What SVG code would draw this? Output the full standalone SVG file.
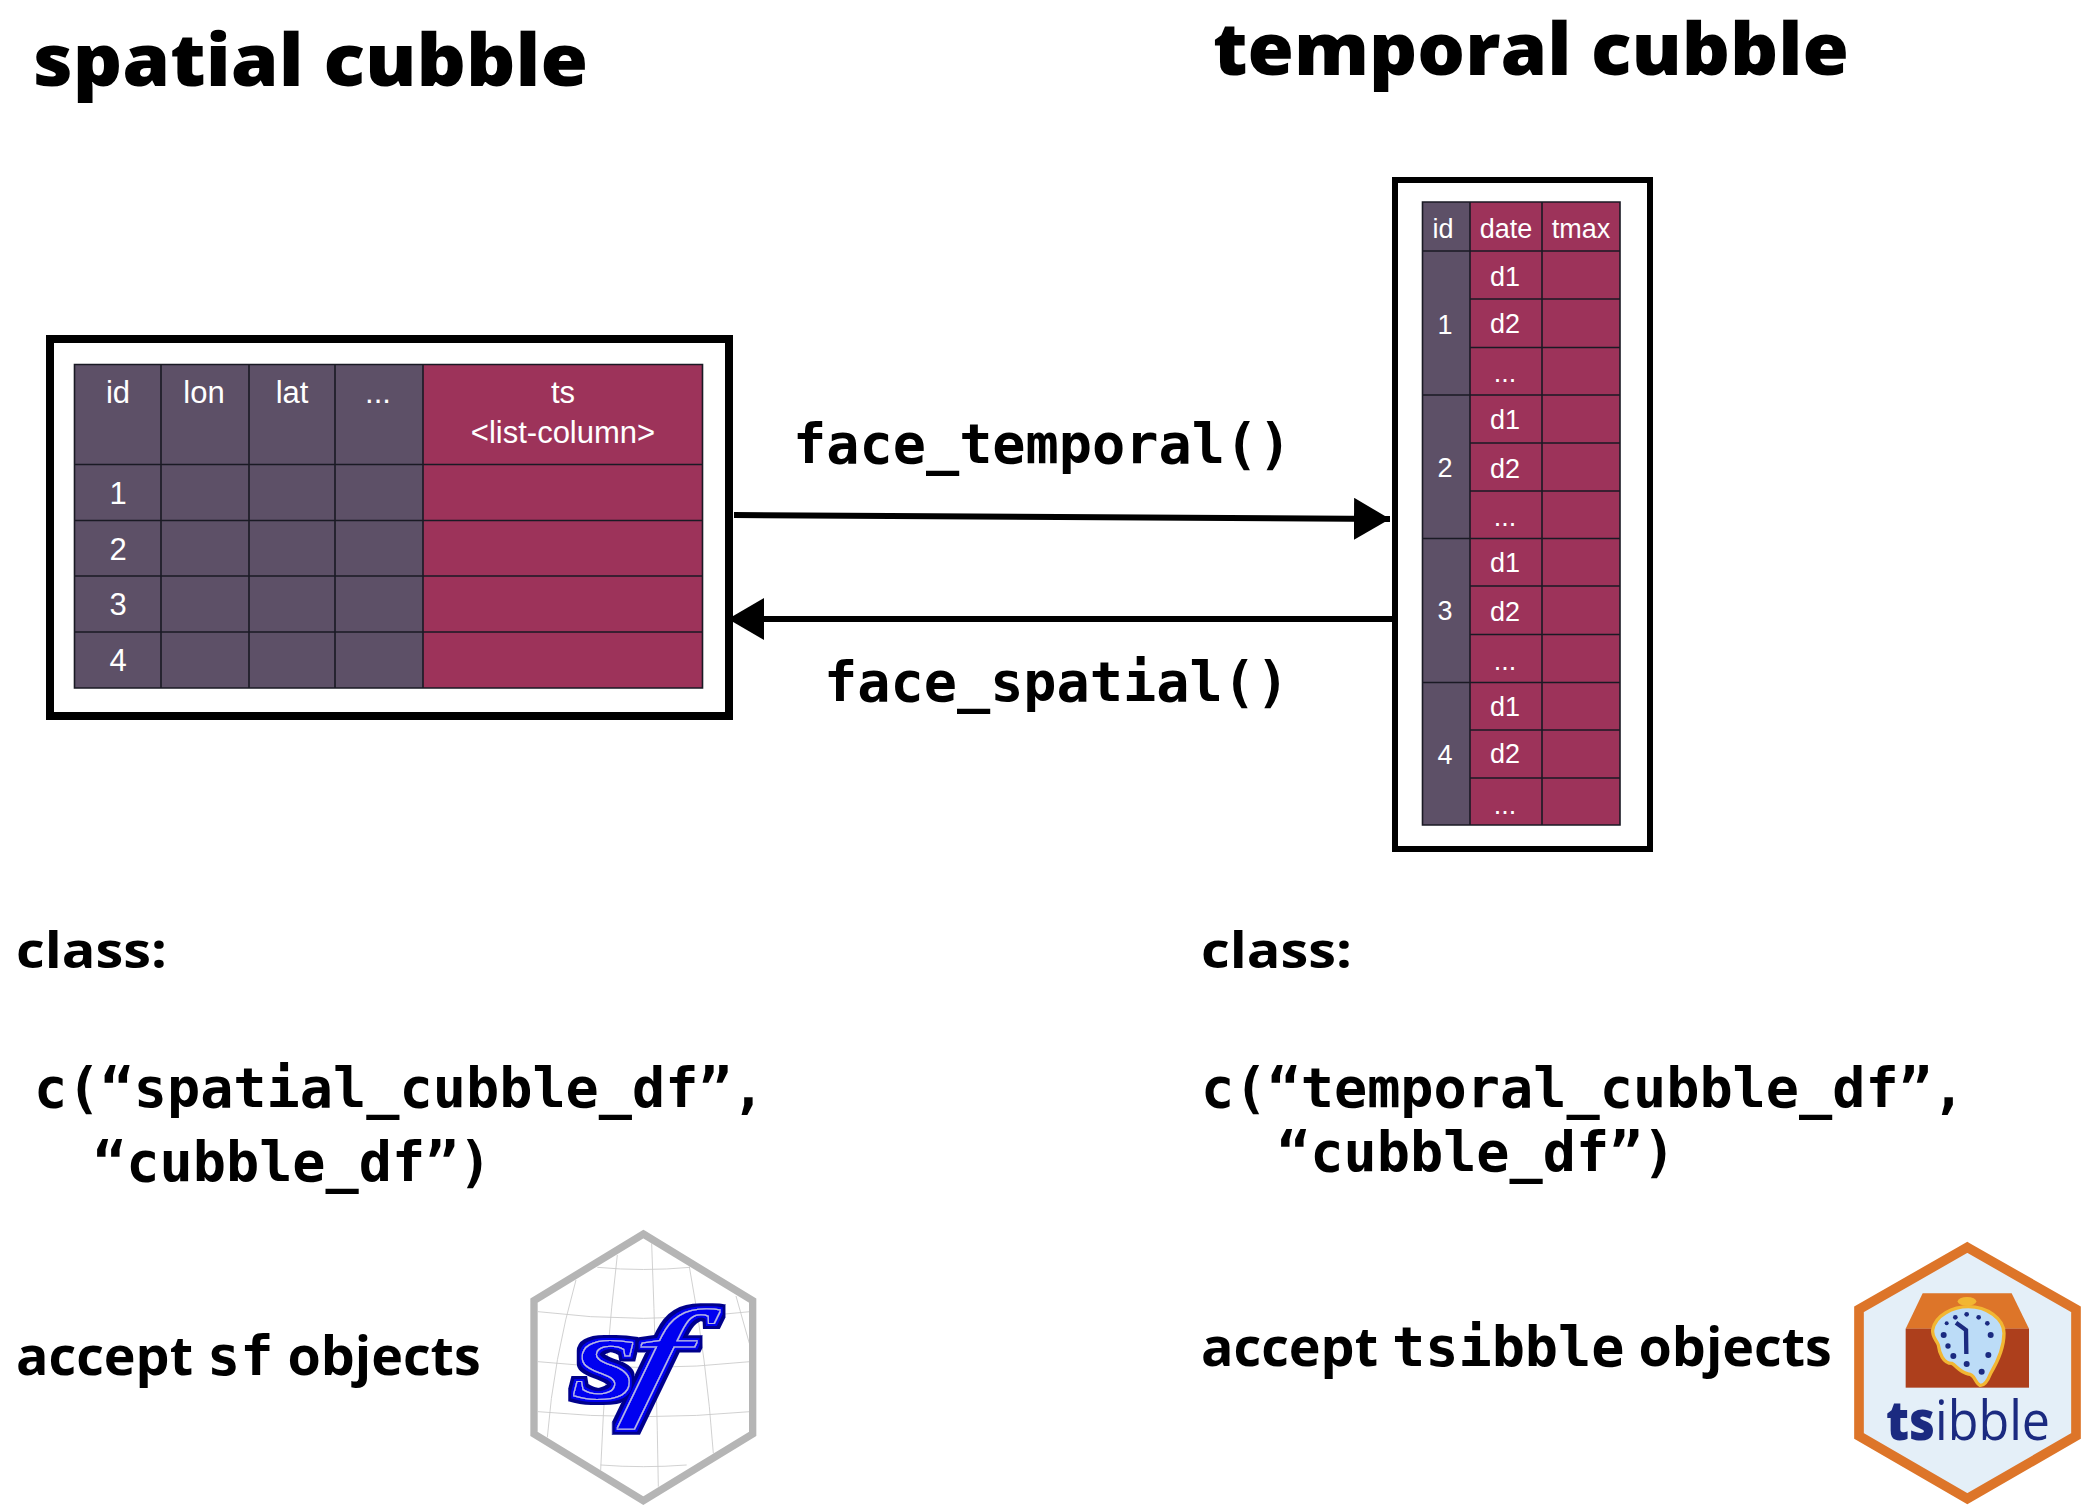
<svg xmlns="http://www.w3.org/2000/svg" width="2086" height="1512" viewBox="0 0 2086 1512">
<style>
.h{font-family:"Open Sans","Noto Sans",sans-serif;font-weight:700;fill:#000}
.t{font-size:72px;font-weight:800}
.l{font-size:53.8px}
.k{font-size:50px}
.m{font-family:"DejaVu Sans Mono",monospace;font-weight:700;font-size:55.2px;fill:#000}
.c{font-family:"Liberation Sans",Arial,sans-serif;fill:#fff;text-anchor:middle}
.a{font-size:31px}
.b{font-size:27px}
.box{fill:#fff;stroke:#000}
.g{fill:#5d5067}
.r{fill:#9d335a}
.ln{stroke:#1a1a24;stroke-width:1.6;fill:none}
.ar{stroke:#000;stroke-width:6;fill:none}
.grid{stroke:#c8c8c8;stroke-width:2.5;fill:none}
.dot{fill:#1b2a80}
</style>
<defs>
<marker id="ah" markerUnits="userSpaceOnUse" markerWidth="38" markerHeight="42" refX="36" refY="21" orient="auto"><path d="M0,0 L36,21 L0,42 Z" fill="#000"/></marker>
<filter id="halo" x="-20%" y="-20%" width="140%" height="140%">
<feMorphology in="SourceAlpha" operator="dilate" radius="17" result="d1"/>
<feFlood flood-color="#00008b"/><feComposite in2="d1" operator="in" result="navy"/>
<feMorphology in="SourceAlpha" operator="dilate" radius="10" result="d2"/>
<feFlood flood-color="#0000f0"/><feComposite in2="d2" operator="in" result="blue"/>
<feMorphology in="SourceAlpha" operator="dilate" radius="3" result="d3"/>
<feFlood flood-color="#b8b8e0"/><feComposite in2="d3" operator="in" result="grey"/>
<feMerge><feMergeNode in="navy"/><feMergeNode in="blue"/><feMergeNode in="grey"/><feMergeNode in="SourceGraphic"/></feMerge>
</filter>
</defs>
<rect width="2086" height="1512" fill="#fff"/>

<g id="title-spatial"><text class="h t" x="33" y="86" textLength="555" lengthAdjust="spacingAndGlyphs">spatial cubble</text></g>
<g id="title-temporal"><text class="h t" x="1213" y="75" textLength="636" lengthAdjust="spacingAndGlyphs">temporal cubble</text></g>

<g id="spatial-table">
<rect class="box" stroke-width="8" x="50" y="339" width="679" height="377"/>
<rect class="g" x="74.500" y="364.500" width="348.500" height="323.500"/>
<rect class="r" x="423" y="364.500" width="279.500" height="323.500"/>
<path class="ln" d="M74.500,364.500H702.500V688H74.500ZM161,364.500V688M249,364.500V688M335,364.500V688M423,364.500V688M74.500,464.500H702.500M74.500,520.500H702.500M74.500,576H702.500M74.500,632H702.500"/>
<text class="c a" x="118" y="403">id</text>
<text class="c a" x="204" y="403">lon</text>
<text class="c a" x="292" y="403">lat</text>
<text class="c a" x="378" y="403">...</text>
<text class="c a" x="563" y="403">ts</text>
<text class="c a" x="563" y="443">&lt;list-column&gt;</text>
<text class="c a" x="118" y="504">1</text>
<text class="c a" x="118" y="560">2</text>
<text class="c a" x="118" y="615">3</text>
<text class="c a" x="118" y="671">4</text>
</g>

<g id="temporal-table">
<rect class="box" stroke-width="6" x="1395" y="180" width="255" height="669"/>
<rect class="g" x="1422.500" y="202" width="47.500" height="623"/>
<rect class="r" x="1470" y="202" width="150" height="623"/>
<path class="ln" d="M1422.500,202H1620V825H1422.500ZM1470,202V825M1542,202V825M1422.500,251H1620M1470,299H1620M1470,347.500H1620M1422.500,395H1620M1470,443H1620M1470,491H1620M1422.500,538.500H1620M1470,586H1620M1470,634.500H1620M1422.500,682.500H1620M1470,730H1620M1470,778H1620"/>
<text class="c b" x="1443" y="238">id</text>
<text class="c b" x="1506" y="238">date</text>
<text class="c b" x="1581" y="238">tmax</text>
<text class="c b" x="1445" y="334">1</text>
<text class="c b" x="1445" y="477">2</text>
<text class="c b" x="1445" y="620">3</text>
<text class="c b" x="1445" y="764">4</text>
<text class="c b" x="1505" y="286">d1</text>
<text class="c b" x="1505" y="333">d2</text>
<text class="c b" x="1505" y="382">...</text>
<text class="c b" x="1505" y="429">d1</text>
<text class="c b" x="1505" y="478">d2</text>
<text class="c b" x="1505" y="526">...</text>
<text class="c b" x="1505" y="572">d1</text>
<text class="c b" x="1505" y="621">d2</text>
<text class="c b" x="1505" y="670">...</text>
<text class="c b" x="1505" y="716">d1</text>
<text class="c b" x="1505" y="763">d2</text>
<text class="c b" x="1505" y="814">...</text>
</g>

<g id="connectors">
<path class="ar" d="M734,515 L1390,519" marker-end="url(#ah)"/>
<path class="ar" d="M1393,619 L728,619" marker-end="url(#ah)"/>
</g>
<g id="connector-labels">
<text class="m" x="793" y="463">face_temporal()</text>
<text class="m" x="824" y="701">face_spatial()</text>
</g>

<g id="spatial-class">
<text class="h k" x="16" y="968" textLength="151" lengthAdjust="spacingAndGlyphs">class:</text>
<text class="m" x="34" y="1107">c(“spatial_cubble_df”,</text>
<text class="m" x="93" y="1181">“cubble_df”)</text>
<text class="h l" x="16" y="1375">accept <tspan class="m">sf</tspan> objects</text>
</g>
<g id="temporal-class">
<text class="h k" x="1201" y="968" textLength="151" lengthAdjust="spacingAndGlyphs">class:</text>
<text class="m" x="1201" y="1107">c(“temporal_cubble_df”,</text>
<text class="m" x="1277" y="1171">“cubble_df”)</text>
<text class="h l" x="1201" y="1366">accept <tspan class="m">tsibble</tspan> objects</text>
</g>

<g id="sf-logo" transform="translate(510,1210) scale(.33333)">
<path d="M400,72 L728,272 L728,672 L400,872 L72,672 L72,272 Z" fill="#fff"/>
<path class="grid" d="M84,305 Q400,345 720,305M84,455 Q400,490 720,455M84,605 Q400,635 720,605M262,172 Q400,185 540,172M272,765 Q400,775 530,765M198,210 Q130,450 112,682M322,135 Q285,450 272,780M425,100 Q440,500 445,830M538,170 Q590,450 610,730M678,258 L718,400"/>
<path d="M400,72 L728,272 L728,672 L400,872 L72,672 L72,272 Z" fill="none" stroke="#b5b5b5" stroke-width="22"/>
<g filter="url(#halo)" font-family="Liberation Serif,serif" font-style="italic" fill="#0000f0">
<text font-size="360" transform="translate(186,564) scale(1.4,1)">s</text>
<text font-size="391" transform="translate(334,572) skewX(-12) scale(1.55,1)">f</text>
</g>
</g>

<g id="tsibble-logo" transform="translate(1840,1230) scale(.33333)">
<path d="M382,52 L708,238 L708,618 L382,806 L57,618 L57,238 Z" fill="#e4eff8" stroke="#dd7529" stroke-width="29"/>
<path d="M248,190 H515 L567,296 H197 Z" fill="#dd7529"/>
<rect x="197" y="296" width="370" height="177" fill="#ad3f1c"/>
<ellipse cx="381" cy="214" rx="28" ry="13" fill="#f2b632"/>
<path d="M278,300 C285,255 340,230 385,230 C440,230 492,265 492,310 C492,360 470,400 452,430 C442,455 432,468 420,466 C405,460 405,432 385,432 C360,428 350,408 335,400 C310,400 298,370 295,345 C290,330 276,322 278,300 Z" fill="#bcdcf7" stroke="#f2b632" stroke-width="10"/>
<g class="dot"><circle cx="380" cy="253" r="7"/><circle cx="416" cy="262" r="7"/><circle cx="442" cy="280" r="7"/><circle cx="452" cy="315" r="9"/><circle cx="445" cy="375" r="9"/><circle cx="425" cy="425" r="9"/><circle cx="380" cy="402" r="9"/><circle cx="340" cy="378" r="9"/><circle cx="324" cy="348" r="8"/><circle cx="311" cy="315" r="9"/><circle cx="320" cy="280" r="6"/><circle cx="346" cy="262" r="7"/></g>
<path d="M348,278 L378,300 L379,372" fill="none" stroke="#1b2a80" stroke-width="13"/>
<text font-family="Open Sans,sans-serif" font-size="165" fill="#1b2a80" x="138" y="630" textLength="492" lengthAdjust="spacingAndGlyphs"><tspan font-weight="800">ts</tspan>ibble</text>
</g>
</svg>
